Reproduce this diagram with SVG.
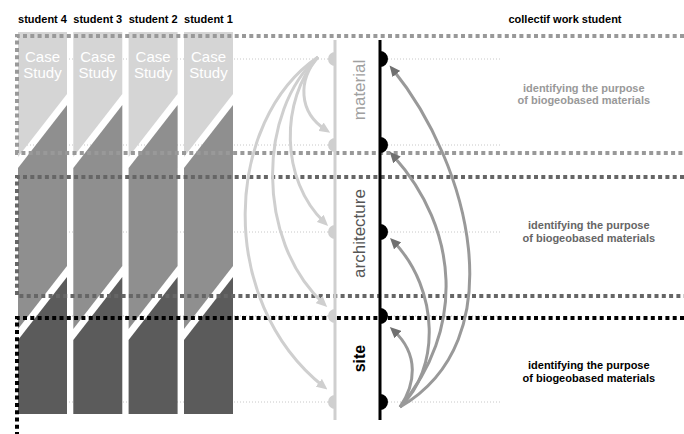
<svg xmlns="http://www.w3.org/2000/svg" width="684" height="434" viewBox="0 0 684 434">
<style>
text{font-family:"Liberation Sans",Arial,Helvetica,sans-serif}
.hd{font-size:11px;font-weight:bold;fill:#000;text-anchor:middle}
.cs{font-size:15px;fill:#fff;text-anchor:middle}
.lt{fill:#d5d5d5}
.md{fill:#8f8f8f}
.dk{fill:#5b5b5b}
.dot{fill:none;stroke:#c8c8c8;stroke-width:1;stroke-dasharray:1 2}
.dash{fill:none;stroke-width:4;stroke-dasharray:4 3.3}
.la{fill:none;stroke:#cfcfcf;stroke-width:3;marker-end:url(#ahL)}
.ra{fill:none;stroke:#999;stroke-width:3;marker-end:url(#ahR)}
.vl{font-size:17px;text-anchor:middle}
.desc{font-size:11px;font-weight:bold;text-anchor:middle}
</style>
<defs>
<marker id="ahL" markerUnits="userSpaceOnUse" viewBox="0 0 11 10" markerWidth="11" markerHeight="10" refX="6" refY="5" orient="auto"><path d="M0,0 L11,5 L0,10 z" fill="#cfcfcf"/></marker>
<marker id="ahR" markerUnits="userSpaceOnUse" viewBox="0 0 11 10" markerWidth="11" markerHeight="10" refX="6" refY="5" orient="auto"><path d="M0,0 L11,5 L0,10 z" fill="#707070"/></marker>
<g id="colshape">
<polygon class="lt" points="0,32 49,32 49,94 0,157"/>
<polygon class="md" points="0,168 49,105 49,266 0,329"/>
<polygon class="dk" points="0,340 49,277 49,414 0,414"/>
</g>
</defs>
<rect width="684" height="434" fill="#fff"/>
<g id="guides">
<path class="dot" d="M18,59 H328 M18,145 H328 M18,232 H328 M18,316 H328 M18,402 H328"/>
<path class="dot" d="M388,59 H502 M388,145 H502 M388,232 H502 M388,316 H502 M388,402 H502"/>
</g>
<g id="student4">
<use href="#colshape" transform="translate(18,0)"/>
<text class="hd" x="42.5" y="23">student 4</text>
<text class="cs" x="42.5" y="61.5">Case</text><text class="cs" x="42.5" y="78">Study</text>
</g>
<g id="student3">
<use href="#colshape" transform="translate(73.3,0)"/>
<text class="hd" x="97.8" y="23">student 3</text>
<text class="cs" x="97.8" y="61.5">Case</text><text class="cs" x="97.8" y="78">Study</text>
</g>
<g id="student2">
<use href="#colshape" transform="translate(128.6,0)"/>
<text class="hd" x="153.1" y="23">student 2</text>
<text class="cs" x="153.1" y="61.5">Case</text><text class="cs" x="153.1" y="78">Study</text>
</g>
<g id="student1">
<use href="#colshape" transform="translate(184,0)"/>
<text class="hd" x="208.5" y="23">student 1</text>
<text class="cs" x="208.5" y="61.5">Case</text><text class="cs" x="208.5" y="78">Study</text>
</g>
<g id="frames">
<path class="dash" stroke="#999" d="M684,36 H17 V153 H684"/>
<path class="dash" stroke="#666" d="M684,177 H17 V296 H684"/>
<path class="dash" stroke="#000" d="M684,318 H17 V440"/>
</g>
<g id="individual-axis">
<line x1="335" y1="40" x2="335" y2="420" stroke="#cfcfcf" stroke-width="3"/>
<path fill="#cfcfcf" d="M335,52 A7,7 0 0 0 335,66 Z M335,138 A7,7 0 0 0 335,152 Z M335,225 A7,7 0 0 0 335,239 Z M335,309 A7,7 0 0 0 335,323 Z M335,395 A7,7 0 0 0 335,409 Z"/>
</g>
<g id="collective-axis">
<line x1="380" y1="40" x2="380" y2="420" stroke="#000" stroke-width="3"/>
<path fill="#000" d="M380,51 A8,8 0 0 1 380,67 Z M380,137 A8,8 0 0 1 380,153 Z M380,224 A8,8 0 0 1 380,240 Z M380,308 A8,8 0 0 1 380,324 Z M380,394 A8,8 0 0 1 380,410 Z"/>
</g>
<g id="connectors">
<path class="la" d="M318,57 C298,80 298,112 326,130"/>
<path class="la" d="M318,57 C280,100 280,180 324.5,222.5"/>
<path class="la" d="M318,57 C258,110 255,240 323.5,303.5"/>
<path class="la" d="M318,57 C225,120 215,300 323.5,386.5"/>
<path class="ra" d="M400,407 C415,385 420,355 393.5,330.5"/>
<path class="ra" d="M400,407 C440,370 440,290 393.5,241.5"/>
<path class="ra" d="M400,407 C465,330 460,230 393,155.5"/>
<path class="ra" d="M400,407 C515,340 470,165 392.7,69.3"/>
</g>
<g id="label-material"><text class="vl" fill="#a0a0a0" x="364.5" y="90" transform="rotate(-90 364.5 90)">material</text></g>
<g id="label-architecture"><text class="vl" fill="#555" x="364.5" y="233.5" transform="rotate(-90 364.5 233.5)">architecture</text></g>
<g id="label-site"><text class="vl" fill="#000" font-weight="bold" style="font-size:16px" x="364.5" y="358.5" transform="rotate(-90 364.5 358.5)">site</text></g>
<g id="collective-title"><text class="hd" x="565" y="23">collectif work student</text></g>
<g id="purpose-material"><text class="desc" fill="#999" x="583.8" y="91.5">identifying the purpose</text><text class="desc" fill="#999" x="583.8" y="104">of biogeobased materials</text></g>
<g id="purpose-architecture"><text class="desc" fill="#666" x="588.8" y="229">identifying the purpose</text><text class="desc" fill="#666" x="588.8" y="241.5">of biogeobased materials</text></g>
<g id="purpose-site"><text class="desc" fill="#000" x="588.8" y="369">identifying the purpose</text><text class="desc" fill="#000" x="588.8" y="381.5">of biogeobased materials</text></g>
</svg>
